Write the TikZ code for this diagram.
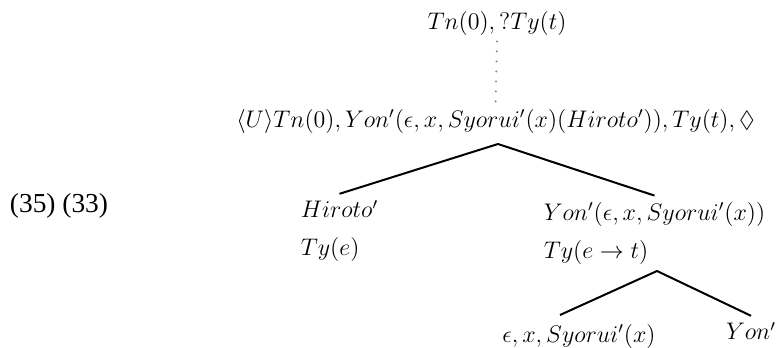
\documentclass[tikz,border=0pt]{standalone}
\usepackage{amsmath}
\usepackage{amssymb}
\usepackage{fontspec}
\setmainfont{Liberation Serif}
\usetikzlibrary{positioning}

\begin{document}
\begin{tikzpicture}[
x=0.5pt, y=-0.5pt,
every node/.style={font=\fontsize{11.7}{19}\selectfont, align=left},
treenode/.style={inner sep=3pt},
branch/.style={line width=1pt, black},
link/.style={gray, line width=1.1pt, line cap=round, dash pattern=on 0pt off 5pt}
]
\useasboundingbox (0,0) rectangle (777,348);
% Nodes
\node[treenode] (top) at (497,23) {$Tn(0), ?Ty(t)$};
\node[treenode] (root) at (495.5,121) {$\langle U\rangle Tn(0), Yon'(\epsilon, x, Syorui'(x)(Hiroto')), Ty(t), \Diamond$};
\node[treenode] (subj) at (339.5,231) {$Hiroto'$\\$Ty(e)$};
\node[treenode] (pred) at (654.5,233) {$Yon'(\epsilon, x, Syorui'(x))$\\$Ty(e \rightarrow t)$};
\node[treenode] (obj) at (579,336) {$\epsilon, x, Syorui'(x)$};
\node[treenode] (verb) at (751,331) {$Yon'$};
% Example number
\node[font=\fontsize{13.7}{16}\selectfont] (exnum) at (59,206) {(35) (33)};
% Branch points
\coordinate (rootfork) at (498,144);
\coordinate (predfork) at (657,271);
\coordinate (objtop) at (560,315);
% Edges
\draw[link] (top.south) -- (root.north);
\draw[branch] (rootfork) -- (subj.north);
\draw[branch] (rootfork) -- (pred.north);
\draw[branch] (predfork) -- (objtop);
\draw[branch] (predfork) -- (verb.north);
\end{tikzpicture}
\end{document}
